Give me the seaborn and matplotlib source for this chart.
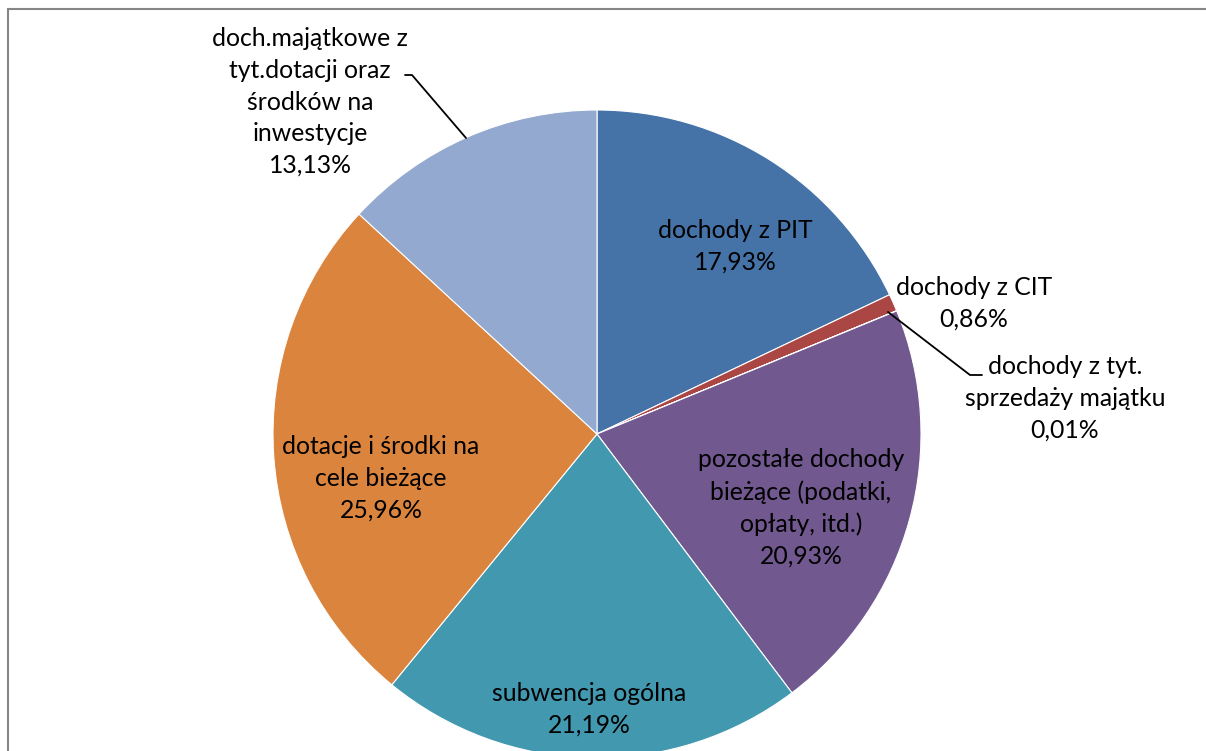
"""
Pie chart of municipal income structure (struktura dochodów).
"""

import matplotlib
matplotlib.use("Agg")
import matplotlib.pyplot as plt
from matplotlib.patches import Rectangle
import seaborn as sns

sns.set_theme(style="white")
plt.rcParams["font.family"] = ["Lato", "DejaVu Sans"]

# Data
categories = [
    "dochody z PIT",
    "dochody z CIT",
    "dochody z tyt.\nsprzedaży majątku",
    "pozostałe dochody\nbieżące (podatki,\nopłaty, itd.)",
    "subwencja ogólna",
    "dotacje i środki na\ncele bieżące",
    "doch.majątkowe z\ntyt.dotacji oraz\nśrodków na\ninwestycje",
]
shares = [17.93, 0.86, 0.01, 20.93, 21.19, 25.96, 13.13]
colors = ["#4573A7", "#AA4644", "#89A54E", "#71588F", "#4198AF", "#DB843D", "#93A9CF"]

W, H = 1206, 751
CX, CY, R = 597, 434, 324

# label centres in pixel coords (x, y from top)
label_pos = [(735, 246), (974, 303), (1065, 398), (801, 508), (589, 709), (381, 478), (310, 102)]


def py(y):
    return H - y


fig = plt.figure(figsize=(W / 100, H / 100), dpi=100)
ax = fig.add_axes([0, 0, 1, 1])

ax.pie(
    shares,
    colors=colors,
    startangle=90,
    counterclock=False,
    center=(CX, py(CY)),
    radius=R,
    wedgeprops={"edgecolor": "white", "linewidth": 0.8},
    frame=True,
)
ax.set_xlim(0, W)
ax.set_ylim(0, H)
ax.axis("off")

for name, val, (x, y) in zip(categories, shares, label_pos):
    txt = name + "\n" + f"{val:.2f}%".replace(".", ",")
    ax.text(x, py(y), txt, ha="center", va="center", fontsize=17.8,
            color="black", linespacing=1.46)

# leader lines
ax.plot([405, 412, 466], [py(75), py(75), py(138)], color="black", lw=1.3)
ax.plot([888, 970, 982], [py(312), py(375), py(375)], color="black", lw=1.3)

# chart frame
fig.patches.append(Rectangle((8 / W, -0.1), 1.2, 1.1 - 9 / H, transform=fig.transFigure,
                             fill=False, edgecolor="#868686", lw=1.5))

fig.savefig("out.png", dpi=100)
